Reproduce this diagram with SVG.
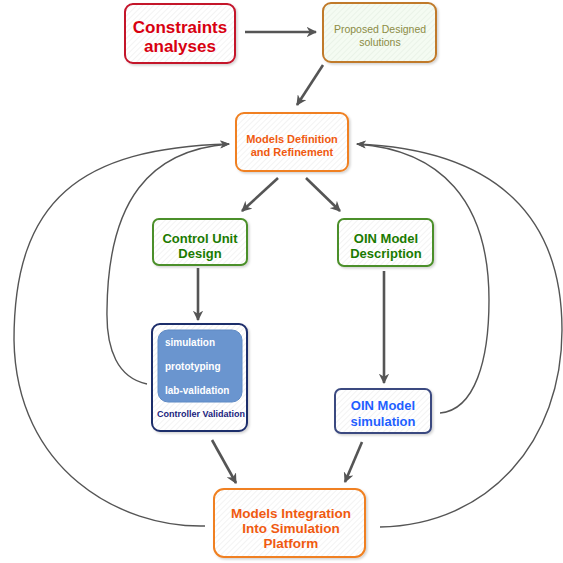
<svg xmlns="http://www.w3.org/2000/svg" width="563" height="563" viewBox="0 0 563 563">
<defs>
<pattern id="hatch" width="4" height="4" patternUnits="userSpaceOnUse" patternTransform="rotate(45)">
<rect width="4" height="4" fill="#ffffff"/>
<line x1="0" y1="0" x2="0" y2="4" stroke="#ececec" stroke-width="1.2"/>
</pattern>
<pattern id="hatchg" width="4" height="4" patternUnits="userSpaceOnUse" patternTransform="rotate(45)">
<rect width="4" height="4" fill="#f4fbf2"/>
<line x1="0" y1="0" x2="0" y2="4" stroke="#e4efe2" stroke-width="1.2"/>
</pattern>
<marker id="ah" viewBox="0 0 10 10" refX="9" refY="5" markerWidth="4" markerHeight="4" orient="auto" markerUnits="strokeWidth">
<path d="M0,0 L10,5 L0,10 L3,5 z" fill="#555"/>
</marker>
<marker id="ahc" viewBox="0 0 10 10" refX="9" refY="5" markerWidth="7" markerHeight="7" orient="auto" markerUnits="strokeWidth">
<path d="M0,1 L10,5 L0,9 L3,5 z" fill="#555"/>
</marker>
<filter id="sh" x="-10%" y="-10%" width="130%" height="130%">
<feDropShadow dx="1.5" dy="1.5" stdDeviation="1.2" flood-color="#000" flood-opacity="0.18"/>
</filter>
</defs>
<style>
text{font-family:"Liberation Sans",Arial,sans-serif;text-anchor:middle;font-weight:bold}
.box{fill:url(#hatch);stroke-width:2;filter:url(#sh)}
.s{fill:none;stroke:#555;stroke-width:2.6;marker-end:url(#ah)}
.c{fill:none;stroke:#555;stroke-width:1.4;marker-end:url(#ahc)}
</style>
<rect width="563" height="563" fill="#ffffff"/>
<g id="connectors">
<path class="s" d="M245,32 L316,32"/>
<path class="s" d="M323,65 L297,105"/>
<path class="s" d="M278,178 L242,211"/>
<path class="s" d="M306,178 L340,211"/>
<path class="s" d="M198,268 L198,320"/>
<path class="s" d="M384,271 L384,383"/>
<path class="s" d="M212,440 L236,483"/>
<path class="s" d="M362,442 L345,482"/>
<path class="c" d="M147,384 C118,378 106,350 107,310 C108,200 150,150 229,144"/>
<path class="c" d="M205,526 C120,528 16,470 14,340 C14,200 80,148 229,144"/>
<path class="c" d="M440,413 C475,410 489,360 489,300 C489,200 440,150 357,144"/>
<path class="c" d="M380,527 C490,525 562,440 562,330 C562,220 500,150 357,144"/>
</g>
<g id="constraints">
<rect class="box" x="125" y="4" width="110" height="59" rx="8" stroke="#c4122a"/>
<text x="180" y="33" font-size="17" fill="#d80010">Constraints</text>
<text x="180" y="52" font-size="17" fill="#d80010">analyses</text>
</g>
<g id="proposed">
<rect class="box" x="323" y="3" width="113" height="59" rx="8" stroke="#c07a2a" fill="url(#hatchg)" style="fill:url(#hatchg)"/>
<text x="380" y="33" font-size="10.5" fill="#8c8c45" style="font-weight:normal">Proposed Designed</text>
<text x="380" y="46" font-size="10.5" fill="#8c8c45" style="font-weight:normal">solutions</text>
</g>
<g id="models-def">
<rect class="box" x="236" y="113" width="112" height="58" rx="8" stroke="#f08020"/>
<text x="292" y="143" font-size="11" fill="#f05a10">Models Definition</text>
<text x="292" y="156" font-size="11" fill="#f05a10">and Refinement</text>
</g>
<g id="control-unit">
<rect class="box" x="153" y="219" width="94" height="46" rx="6" stroke="#4b8f29"/>
<text x="200" y="243" font-size="13" fill="#1a7a00">Control Unit</text>
<text x="200" y="258" font-size="13" fill="#1a7a00">Design</text>
</g>
<g id="oin-desc">
<rect class="box" x="338" y="219" width="95" height="47" rx="6" stroke="#4b8f29"/>
<text x="386" y="243" font-size="13" fill="#1a7a00">OIN Model</text>
<text x="386" y="258" font-size="13" fill="#1a7a00">Description</text>
</g>
<g id="controller-validation">
<rect class="box" x="152" y="324" width="95" height="107" rx="8" stroke="#1e2d6b"/>
<rect x="158" y="330" width="84" height="72" rx="10" fill="#6a95cf" stroke="#5f8ac4"/>
<text x="165" y="346" font-size="10" fill="#ffffff" style="text-anchor:start">simulation</text>
<text x="165" y="370" font-size="10" fill="#ffffff" style="text-anchor:start">prototyping</text>
<text x="165" y="394" font-size="10" fill="#ffffff" style="text-anchor:start">lab-validation</text>
<text x="201" y="417" font-size="9" fill="#1a237e">Controller Validation</text>
</g>
<g id="oin-sim">
<rect class="box" x="335" y="389" width="96" height="44" rx="6" stroke="#3a4a80"/>
<text x="383" y="410" font-size="13" fill="#1f5fff">OIN Model</text>
<text x="383" y="426" font-size="13" fill="#1f5fff">simulation</text>
</g>
<g id="models-integration">
<rect class="box" x="214" y="489" width="151" height="68" rx="10" stroke="#f08020"/>
<text x="291" y="518" font-size="13.5" fill="#f05a10">Models Integration</text>
<text x="291" y="533" font-size="13.5" fill="#f05a10">Into Simulation</text>
<text x="291" y="548" font-size="13.5" fill="#f05a10">Platform</text>
</g>
</svg>
